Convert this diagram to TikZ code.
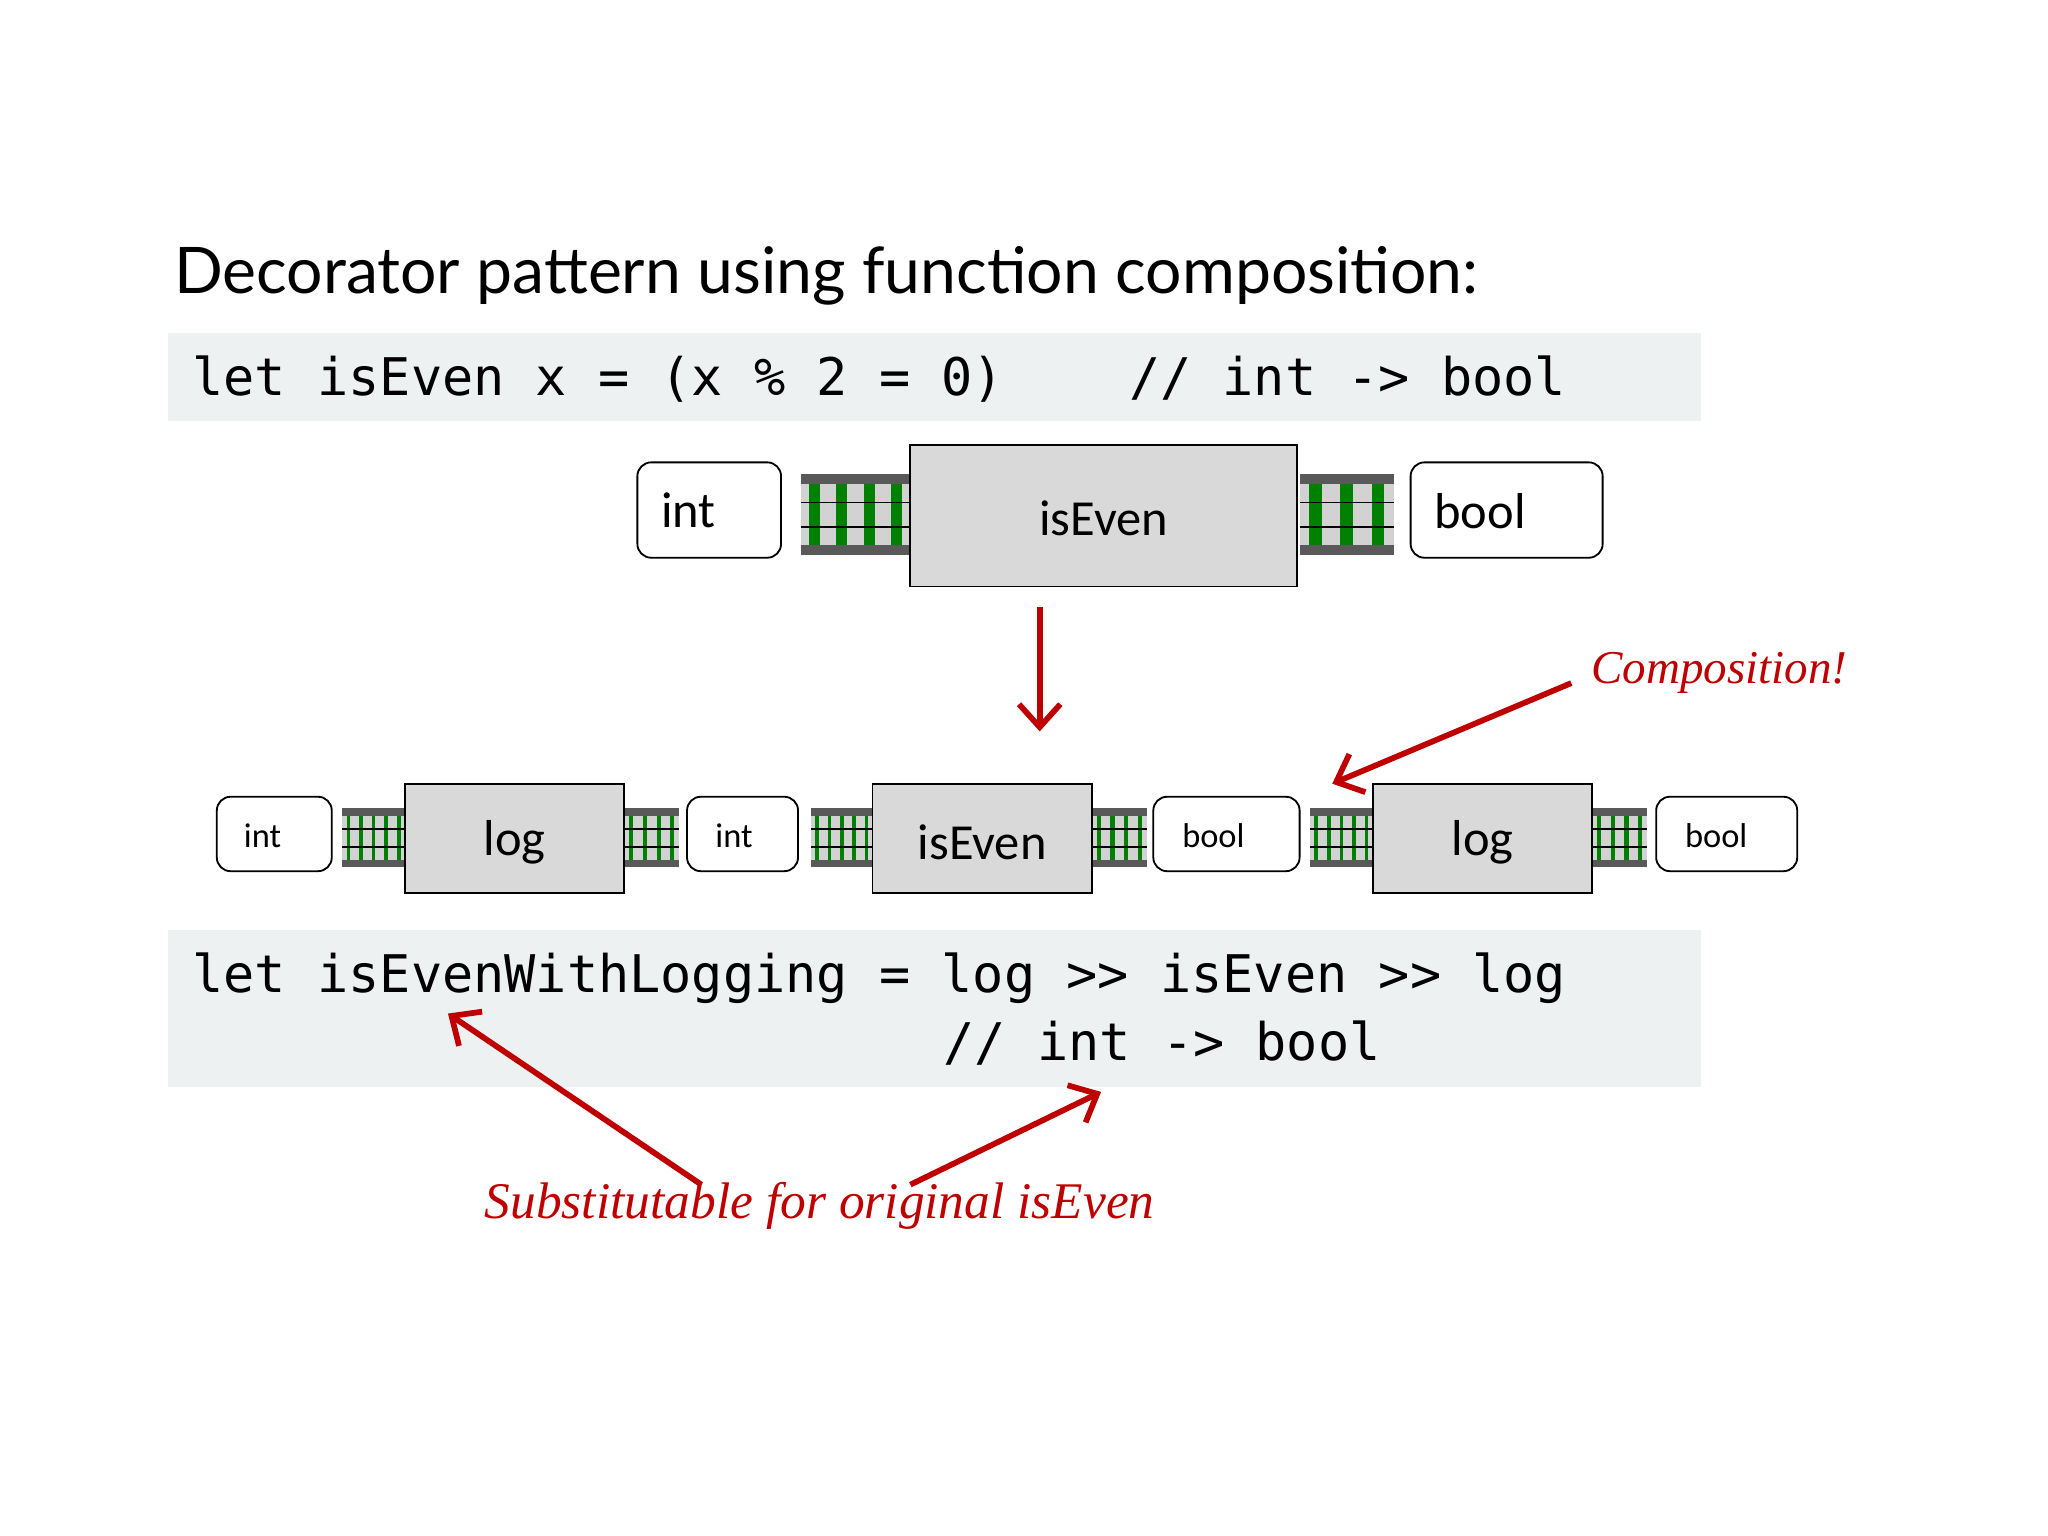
\documentclass[tikz,border=0pt]{standalone}
\usepackage{fontspec}
\setmainfont{Carlito}
\newfontfamily\titlef{Lato}
\newfontfamily\codef{DejaVu Sans Mono}
\newfontfamily\handf{Liberation Serif}
\definecolor{codebg}{HTML}{EEF1F1}
\newcommand\mytrack[6]{%
  \fill[gray!35] (#1,#3) rectangle (#2,#4);
  \pgfmathsetmacro\th{(#4-#3)/8}
  \fill[black!65] (#1,#3) rectangle (#2,#3+\th);
  \fill[black!65] (#1,#4-\th) rectangle (#2,#4);
  \pgfmathsetmacro\dx{(#2-#1)/#5}
  \foreach \i in {1,...,#5}{\fill[green!50!black] ({#1+(\i-0.5)*\dx-\dx*#6},#3+\th) rectangle ({#1+(\i-0.5)*\dx+\dx*#6},#4-\th);}
  \draw[line width=0.8pt] (#1,{#3+(#4-#3)*0.35}) -- (#2,{#3+(#4-#3)*0.35});
  \draw[line width=0.8pt] (#1,{#3+(#4-#3)*0.65}) -- (#2,{#3+(#4-#3)*0.65});
}
\begin{document}
\begin{tikzpicture}[x=0.02cm,y=-0.02cm,
  tbox/.style={draw,rounded corners=6pt,fill=white,line width=0.8pt},
  fbox/.style={draw,fill=gray!30,line width=0.8pt},
  code/.style={fill=codebg,draw=none},
  red/.style={draw=red!75!black,line width=2.5pt,-{Straight Barb[length=10pt,width=18pt]}}]
\usetikzlibrary{arrows.meta}
\useasboundingbox (0,0) rectangle (1568,1176);
\node[anchor=base west,font=\titlef\fontsize{28}{34}\selectfont,inner sep=0] (title) at (133,225) {Decorator pattern using function composition:};
\fill[code] (129,255) rectangle (1302,322);
\node[anchor=base west,font=\codef\fontsize{22.6}{27}\selectfont,inner sep=0] (c1) at (147,303) {let isEven x = (x \% 2 = 0)\ \ \ \ // int -> bool};
% top row
\mytrack{613}{697}{363}{425}{4}{0.2}
\mytrack{995}{1067}{363}{425}{3}{0.2}
\draw[tbox] (488,354) rectangle (598,427);
\node[font=\fontsize{22}{26}\selectfont,anchor=west] (i1) at (500,391) {int};
\draw[fbox] (697,341) rectangle (993,449);
\node[font=\fontsize{22}{26}\selectfont] (e1) at (845,397) {isEven};
\draw[tbox] (1080,354) rectangle (1227,427);
\node[font=\fontsize{22}{26}\selectfont,anchor=west] (b1) at (1092,391) {bool};
\coordinate (a1) at (796,465); \coordinate (a2) at (796,560);
\draw[red] (a1) -- (a2);
% second row
\mytrack{262}{310}{619}{664}{5}{0.15}
\mytrack{478}{520}{619}{664}{4}{0.15}
\mytrack{621}{668}{619}{664}{5}{0.15}
\mytrack{836}{878}{619}{664}{4}{0.15}
\mytrack{1003}{1051}{619}{664}{5}{0.15}
\mytrack{1219}{1261}{619}{664}{4}{0.15}
\draw[tbox] (166,610) rectangle (254,667);
\node[font=\fontsize{15}{18}\selectfont] (i2) at (201,640) {int};
\draw[fbox] (310,600) rectangle (478,684);
\node[font=\fontsize{22}{26}\selectfont] (l1) at (394,645) {log};
\draw[tbox] (526,610) rectangle (611,667);
\node[font=\fontsize{15}{18}\selectfont] (i3) at (562,640) {int};
\draw[fbox] (668,600) rectangle (836,684);
\node[font=\fontsize{22}{26}\selectfont] (e2) at (752,645) {isEven};
\draw[tbox] (883,610) rectangle (995,667);
\node[font=\fontsize{15}{18}\selectfont] (b2) at (929,640) {bool};
\draw[fbox] (1051,600) rectangle (1219,684);
\node[font=\fontsize{22}{26}\selectfont] (l2) at (1135,645) {log};
\draw[tbox] (1268,610) rectangle (1376,667);
\node[font=\fontsize{15}{18}\selectfont] (b3) at (1314,640) {bool};
% composition
\node[font=\handf\itshape\fontsize{20.5}{24}\selectfont,text=red!75!black,anchor=west] (comp) at (1212,515) {Composition!};
\coordinate (cs) at (1203,523); \coordinate (ce) at (1020,600);
\draw[red] (cs) -- (ce);
% code 2
\fill[code] (129,712) rectangle (1302,832);
\node[anchor=base west,font=\codef\fontsize{22.6}{27}\selectfont,inner sep=0] (c2) at (147,760) {let isEvenWithLogging = log >> isEven >> log};
\node[anchor=base west,font=\codef\fontsize{22.6}{27}\selectfont,inner sep=0] (c3) at (722,812) {// int -> bool};
% substitutable
\node[font=\handf\itshape\fontsize{22.4}{26}\selectfont,text=red!75!black,anchor=west] (sub) at (365,923) {Substitutable for original isEven};
\coordinate (s1) at (537,907); \coordinate (t1) at (343,776);
\coordinate (s2) at (697,907); \coordinate (t2) at (843,836);
\draw[red] (s1) -- (t1);
\draw[red] (s2) -- (t2);
\end{tikzpicture}
\end{document}
